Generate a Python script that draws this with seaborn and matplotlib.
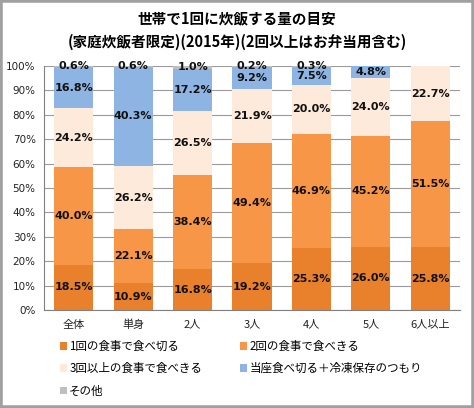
import matplotlib
matplotlib.use('Agg')
import matplotlib.pyplot as plt
from matplotlib.patches import Patch, Rectangle
import numpy as np
import pandas as pd
import seaborn as sns

categories = ['全体', '単身', '2人', '3人', '4人', '5人', '6人以上']
series_names = ['1回の食事で食べ切る', '2回の食事で食べきる', '3回以上の食事で食べきる',
                '当座食べ切る＋冷凍保存のつもり', 'その他']
once = [18.5, 10.9, 16.8, 19.2, 25.3, 26.0, 25.8]
twice = [40.0, 22.1, 38.4, 49.4, 46.9, 45.2, 51.5]
three_plus = [24.2, 26.2, 26.5, 21.9, 20.0, 24.0, 22.7]
freeze = [16.8, 40.3, 17.2, 9.2, 7.5, 4.8, 0.0]
other = [0.6, 0.6, 1.0, 0.2, 0.3, 0.0, 0.0]
colors = ['#E8802C', '#F79646', '#FDEADA', '#8DB4E2', '#BFBFBF']

sns.set_style('white')
plt.rcParams['font.family'] = ['Noto Sans CJK JP', 'DejaVu Sans']
plt.rcParams['text.color'] = 'black'
plt.rcParams['xtick.color'] = '#222222'
plt.rcParams['ytick.color'] = '#222222'

values = np.array([once, twice, three_plus, freeze, other])
cum = values.cumsum(axis=0)

fig = plt.figure(figsize=(4.74, 4.08), dpi=100)
ax = fig.add_axes([44 / 474, 1 - 310 / 408, (460 - 44) / 474, (310 - 66) / 408])

ax.set_axisbelow(True)
ax.yaxis.grid(True, color='#9a9a9a', linewidth=0.8)

# stacked bars: draw running totals from the top series down
for i in range(len(series_names) - 1, -1, -1):
    df = pd.DataFrame({'cat': categories, 'val': cum[i]})
    sns.barplot(data=df, x='cat', y='val', color=colors[i], width=0.66,
                saturation=1, ax=ax, linewidth=0)

for i in range(len(series_names)):
    for j in range(len(categories)):
        v = values[i, j]
        if v <= 0:
            continue
        ax.text(j, cum[i, j] - v / 2, f'{v:.1f}%', ha='center', va='center',
                fontsize=8, fontweight='bold', color='#111111',
                family='DejaVu Sans')

ax.set_ylim(0, 100)
ax.set_xlim(-0.5, len(categories) - 0.5)
ax.set_yticks(np.arange(0, 101, 10))
ax.set_yticklabels([f'{t}%' for t in range(0, 101, 10)], fontsize=7.5,
                   family='DejaVu Sans')
ax.set_xticks(range(len(categories)))
ax.set_xticklabels(categories, fontsize=8)
ax.set_xticks(np.arange(-0.5, len(categories), 1), minor=True)
ax.tick_params(axis='x', which='major', length=0, pad=7)
ax.tick_params(axis='x', which='minor', length=4, color='#808080')
ax.tick_params(axis='y', length=4, color='#808080', pad=2)
ax.set_xlabel('')
ax.set_ylabel('')
for side in ['top', 'right']:
    ax.spines[side].set_visible(False)
for side in ['left', 'bottom']:
    ax.spines[side].set_color('#808080')
    ax.spines[side].set_linewidth(0.8)

fig.text(0.5, 1 - 18 / 408, '世帯で1回に炊飯する量の目安', ha='center', va='center',
         fontsize=10.5, fontweight='bold')
fig.text(0.5, 1 - 42 / 408, '(家庭炊飯者限定)(2015年)(2回以上はお弁当用含む)',
         ha='center', va='center', fontsize=10.5, fontweight='bold')

handles = [Patch(facecolor=c, edgecolor='none') for c in colors]
order = [0, 2, 4, 1, 3]
fig.legend([handles[k] for k in order], [series_names[k] for k in order],
           ncol=2, loc='upper left', bbox_to_anchor=(60 / 474, 1 - 340 / 408),
           frameon=False, fontsize=8.3, handlelength=0.6, handleheight=0.6,
           handletextpad=0.2, columnspacing=3.3, labelspacing=0.8,
           borderaxespad=0, borderpad=0)

fig.patches.append(Rectangle((0, 0), 1, 1, transform=fig.transFigure,
                             fill=False, edgecolor='#a0a0a0', linewidth=4))

fig.savefig('out.png', dpi=100)
